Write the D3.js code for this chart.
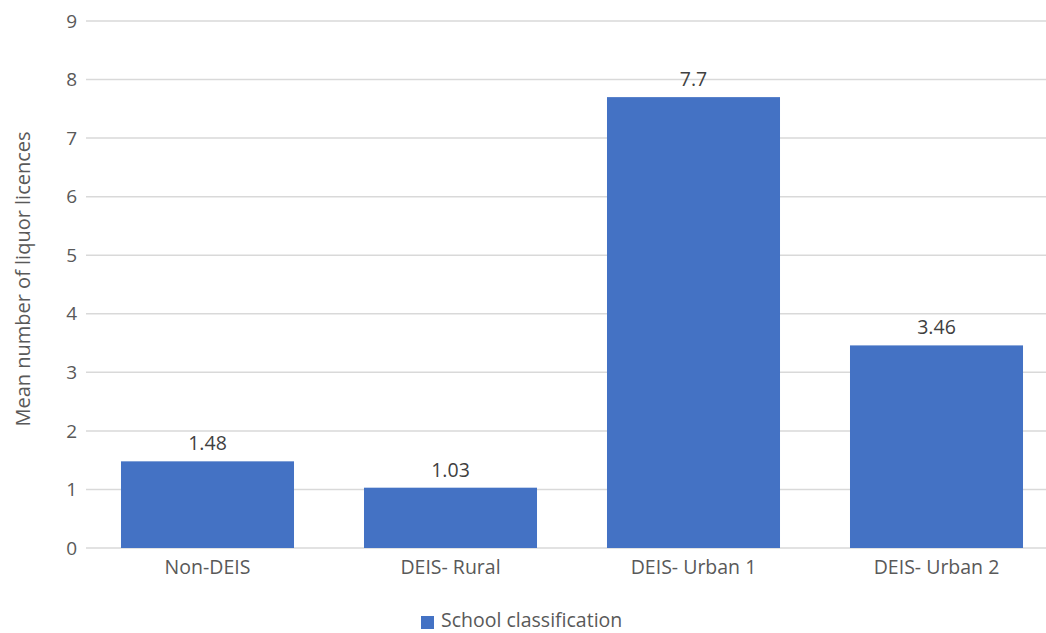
<!DOCTYPE html>
<html>
<head>
<meta charset="utf-8">
<script src="https://cdn.jsdelivr.net/npm/d3@7"></script>
<style>
  body { margin: 0; background: #fff; }
  text { font-family: "Open Sans", sans-serif; fill: #595959; }
</style>
</head>
<body>
<script>
var canvasWidth = 1046;
var canvasHeight = 633;
var margin = { top: 21, right: 0, bottom: 85, left: 86 };

var categories = ["Non-DEIS", "DEIS- Rural", "DEIS- Urban 1", "DEIS- Urban 2"];
var values = [1.48, 1.03, 7.7, 3.46];
var valueLabels = ["1.48", "1.03", "7.7", "3.46"];
var yTicks = [0, 1, 2, 3, 4, 5, 6, 7, 8, 9];
var seriesName = "School classification";
var yTitle = "Mean number of liquor licences";

var width = canvasWidth - margin.left - margin.right;
var height = canvasHeight - margin.top - margin.bottom;
// the plot area runs a little past the right edge of the picture
var plotWidth = 972;

var svg = d3.select("body").append("svg")
    .attr("width", canvasWidth)
    .attr("height", canvasHeight);

var xScale = d3.scaleBand().domain(categories).range([0, plotWidth]).paddingInner(0.288).paddingOuter(0.144);
var yScale = d3.scaleLinear().domain([0, 9]).range([height, 0]);

var g = svg.append("g")
    .attr("transform", "translate(" + margin.left + ", " + margin.top + ")");

// gridlines
g.selectAll("line.grid").data(yTicks)
    .enter().append("line")
    .attr("class", "grid")
    .attr("x1", 0)
    .attr("x2", width)
    .attr("y1", d => yScale(d))
    .attr("y2", d => yScale(d))
    .attr("stroke", "#d9d9d9")
    .attr("stroke-width", 1.5);

// y tick labels
g.selectAll("text.ytick").data(yTicks)
    .enter().append("text")
    .attr("class", "ytick")
    .attr("x", -9)
    .attr("y", d => yScale(d))
    .attr("dy", "0.35em")
    .attr("text-anchor", "end")
    .attr("font-size", "19px")
    .text(d => d);

// bars
g.selectAll("rect.bar").data(values)
    .enter().append("rect")
    .attr("class", "bar")
    .attr("x", (d, i) => xScale(categories[i]))
    .attr("width", xScale.bandwidth())
    .attr("y", d => yScale(d))
    .attr("height", d => height - yScale(d))
    .attr("fill", "#4472c4");

// value labels
g.selectAll("text.val").data(values)
    .enter().append("text")
    .attr("class", "val")
    .attr("x", (d, i) => xScale(categories[i]) + xScale.bandwidth() / 2)
    .attr("y", d => yScale(d) - 11)
    .attr("text-anchor", "middle")
    .attr("font-size", "19.5px")
    .style("fill", "#404040")
    .text((d, i) => valueLabels[i]);

// x labels
g.selectAll("text.xlab").data(categories)
    .enter().append("text")
    .attr("class", "xlab")
    .attr("x", d => xScale(d) + xScale.bandwidth() / 2)
    .attr("y", height + 26)
    .attr("text-anchor", "middle")
    .attr("font-size", "19.5px")
    .text(d => d);

// y title
svg.append("text")
    .attr("transform", "translate(30, 279) rotate(-90)")
    .attr("text-anchor", "middle")
    .attr("font-size", "20px")
    .text(yTitle);

// legend
svg.append("rect")
    .attr("x", 421)
    .attr("y", 616)
    .attr("width", 13)
    .attr("height", 13)
    .attr("fill", "#4472c4");
svg.append("text")
    .attr("x", 441)
    .attr("y", 627)
    .attr("font-size", "19.5px")
    .text(seriesName);
</script>
</body>
</html>
